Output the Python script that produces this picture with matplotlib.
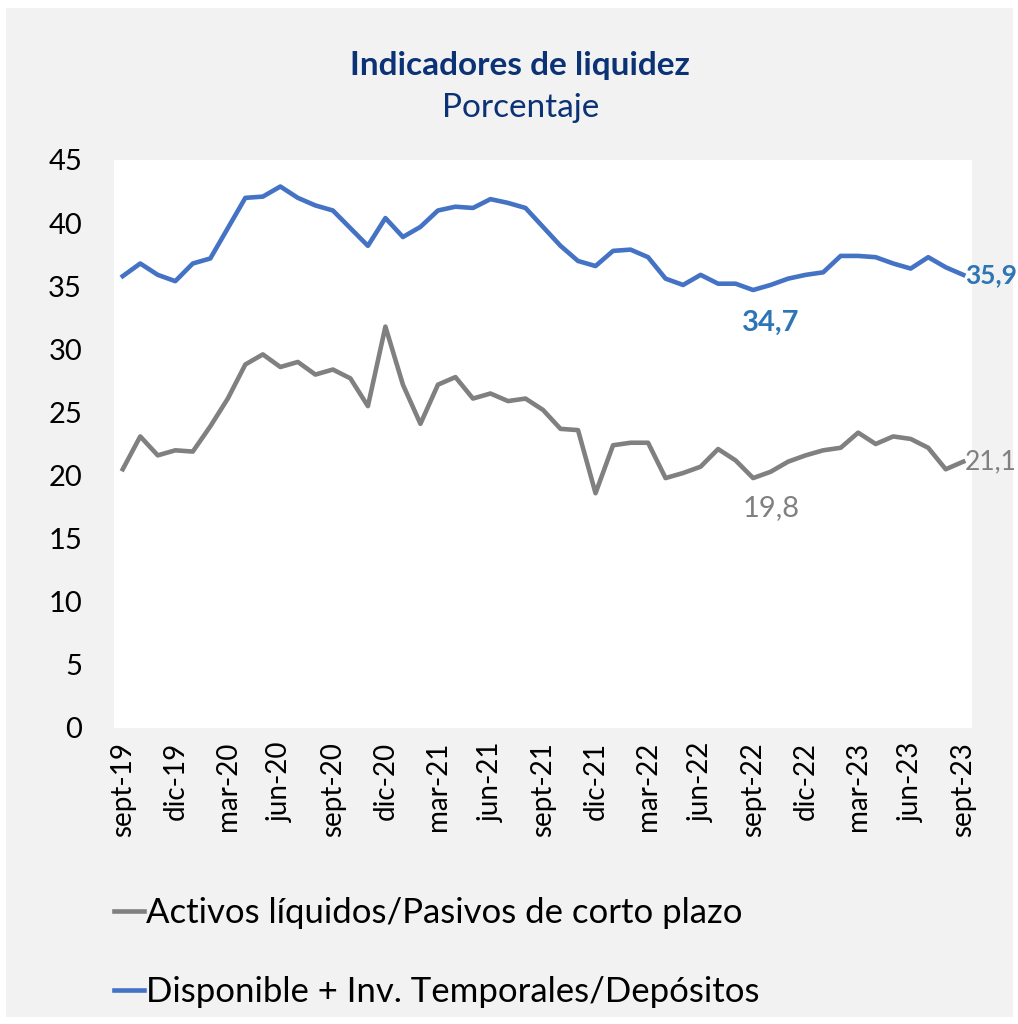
import numpy as np
import matplotlib
matplotlib.use('Agg')
import matplotlib.pyplot as plt
from matplotlib.patches import Rectangle

plt.rcParams['font.family'] = ['Lato', 'DejaVu Sans']

# monthly data, sept-19 .. sept-23
meses = ['sept', 'oct', 'nov', 'dic', 'ene', 'feb', 'mar', 'abr', 'may', 'jun', 'jul', 'ago']
fechas = []
for k in range(49):
	a = 19 + (8 + k) // 12
	fechas.append(meses[k % 12] + '-' + str(a))

activos = [20.5, 23.1, 21.6, 22.0, 21.9, 23.9, 26.1, 28.8, 29.6, 28.6,
           29.0, 28.0, 28.4, 27.7, 25.5, 31.8, 27.2, 24.1, 27.2, 27.8,
           26.1, 26.5, 25.9, 26.1, 25.2, 23.7, 23.6, 18.6, 22.4, 22.6,
           22.6, 19.8, 20.2, 20.7, 22.1, 21.2, 19.8, 20.3, 21.1, 21.6,
           22.0, 22.2, 23.4, 22.5, 23.1, 22.9, 22.2, 20.5, 21.1]

disponible = [35.8, 36.8, 35.9, 35.4, 36.8, 37.2, 39.6, 42.0, 42.1, 42.9,
              42.0, 41.4, 41.0, 39.6, 38.2, 40.4, 38.9, 39.7, 41.0, 41.3,
              41.2, 41.9, 41.6, 41.2, 39.7, 38.2, 37.0, 36.6, 37.8, 37.9,
              37.3, 35.6, 35.1, 35.9, 35.2, 35.2, 34.7, 35.1, 35.6, 35.9,
              36.1, 37.4, 37.4, 37.3, 36.8, 36.4, 37.3, 36.5, 35.9]

x = np.arange(len(activos))

fig = plt.figure(figsize=(10.18, 10.24), dpi=100)
fig.patch.set_facecolor('white')
fig.patches.append(Rectangle((6/1018, 7/1024), 1007/1018, 1009/1024, transform=fig.transFigure,
                             facecolor='#f2f2f2', edgecolor='none', zorder=-10))

ax = fig.add_axes([114/1018, 1-728/1024, 858/1018, 568/1024])
ax.set_facecolor('white')

gris = '#808080'
azul = '#4472c4'
ax.plot(x, activos, color=gris, lw=3.3, label='Activos líquidos/Pasivos de corto plazo')
ax.plot(x, disponible, color=azul, lw=3.3, label='Disponible + Inv. Temporales/Depósitos')

ax.set_xlim(-0.5, 48.5)
ax.set_ylim(0, 45)
ax.set_yticks(np.arange(0, 46, 5))
ax.set_xticks(x[::3])
ax.set_xticklabels(fechas[::3], rotation=90)
ax.tick_params(axis='both', length=0, colors='black')
ax.tick_params(axis='y', pad=23, labelsize=21)
ax.tick_params(axis='x', pad=10, labelsize=20)
for s in ax.spines.values():
	s.set_visible(False)

# data labels
azul_txt = '#2e75b6'
ax.annotate('35,9', (x[-1], disponible[-1]), xytext=(1, 0), textcoords='offset points',
            ha='left', va='center', fontsize=19, color=azul_txt, fontweight='bold', annotation_clip=False)
ax.annotate('34,7', (x[36], disponible[36]), xytext=(13, -14), textcoords='offset points',
            ha='center', va='top', fontsize=21, color=azul_txt, fontweight='bold')
ax.annotate('19,8', (x[36], activos[36]), xytext=(13, -12), textcoords='offset points',
            ha='center', va='top', fontsize=21, color=gris)
ax.annotate('21,1', (x[-1], activos[-1]), xytext=(1, 0), textcoords='offset points',
            ha='left', va='center', fontsize=19, color=gris, annotation_clip=False)

fig.text(0.511, 1-65/1024, 'Indicadores de liquidez', ha='center', va='center',
         fontsize=24, fontweight='bold', color='#0b3275')
fig.text(0.511, 1-108/1024, 'Porcentaje', ha='center', va='center',
         fontsize=24, color='#0b3275')

handles, labels = ax.get_legend_handles_labels()
leg = fig.legend(handles, labels, loc='upper left', bbox_to_anchor=(114/1018, 1-897/1024),
                 ncol=1, frameon=False, fontsize=25, handlelength=0.85, handletextpad=0.08,
                 labelspacing=1.35, borderpad=0, borderaxespad=0)

fig.savefig('out.png', dpi=100, facecolor=fig.get_facecolor())
